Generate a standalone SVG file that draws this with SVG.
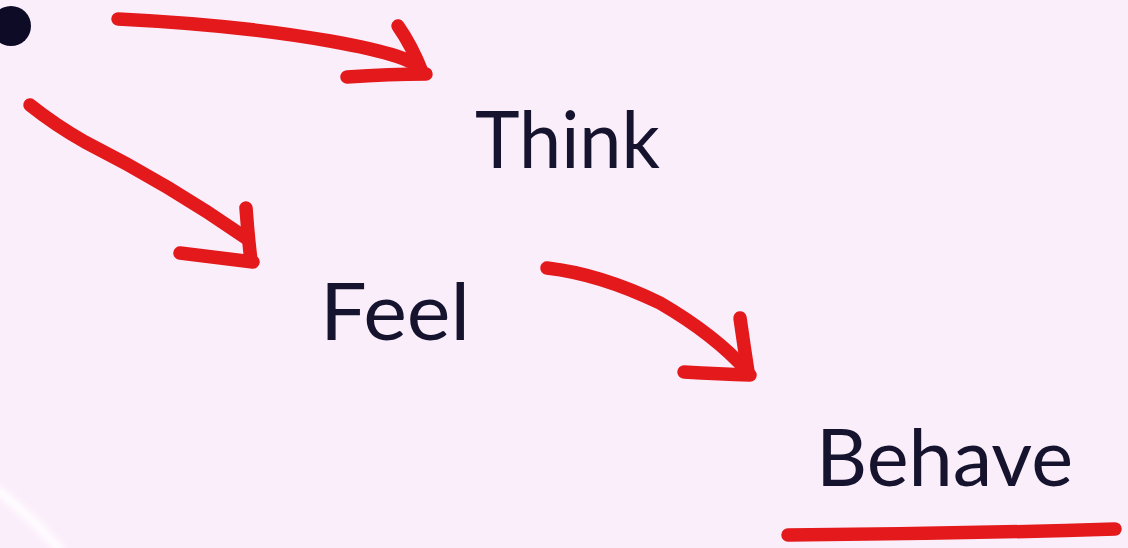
<svg xmlns="http://www.w3.org/2000/svg" width="1128" height="548" viewBox="0 0 1128 548">
<defs>
<style>
.bg{fill:#FBEEFB}
.lbl{font-family:"Lato","Noto Sans","Liberation Sans",sans-serif;font-size:79px;fill:#15132E;font-weight:400}
.red{fill:none;stroke:#E3191B;stroke-width:13.5;stroke-linecap:round;stroke-linejoin:round}
</style>
<filter id="blur" x="-50%" y="-50%" width="200%" height="200%"><feGaussianBlur stdDeviation="3"/></filter>
</defs>
<rect class="bg" x="0" y="0" width="1128" height="548"/>
<path d="M-5 488 Q30 515 62 552" fill="none" stroke="#FFFFFF" stroke-width="9" filter="url(#blur)" opacity="0.9"/>
<g id="dot"><circle cx="11" cy="26" r="20" fill="#0D0B26"/></g>
<g id="connectors">
<g id="arrow-think">
<path class="red" d="M118 19 Q240 25 330 41 T420 71"/>
<path class="red" d="M398 26 Q412 46 422 72"/>
<path class="red" d="M347 77 Q390 74 426 74"/>
</g>
<g id="arrow-feel">
<path class="red" d="M30 105 Q55 125 85 142 Q170 185 246 238"/>
<path class="red" d="M246 208 Q248 236 251 261"/>
<path class="red" d="M180 253 Q220 258 253 262"/>
</g>
<g id="arrow-behave">
<path class="red" d="M547 268 Q600 274 660 303 Q715 335 747 371"/>
<path class="red" d="M740 318 Q744 346 748 372"/>
<path class="red" d="M684 372 Q720 374 750 375"/>
</g>
<g id="underline">
<path class="red" d="M788 535 Q950 534 1115 529"/>
</g>
</g>
<g id="think"><text class="lbl" x="475" y="168" textLength="185" lengthAdjust="spacingAndGlyphs">Think</text></g>
<g id="feel"><text class="lbl" x="320" y="340" textLength="150" lengthAdjust="spacingAndGlyphs">Feel</text></g>
<g id="behave"><text class="lbl" x="816" y="486" textLength="257" lengthAdjust="spacingAndGlyphs">Behave</text></g>
</svg>
